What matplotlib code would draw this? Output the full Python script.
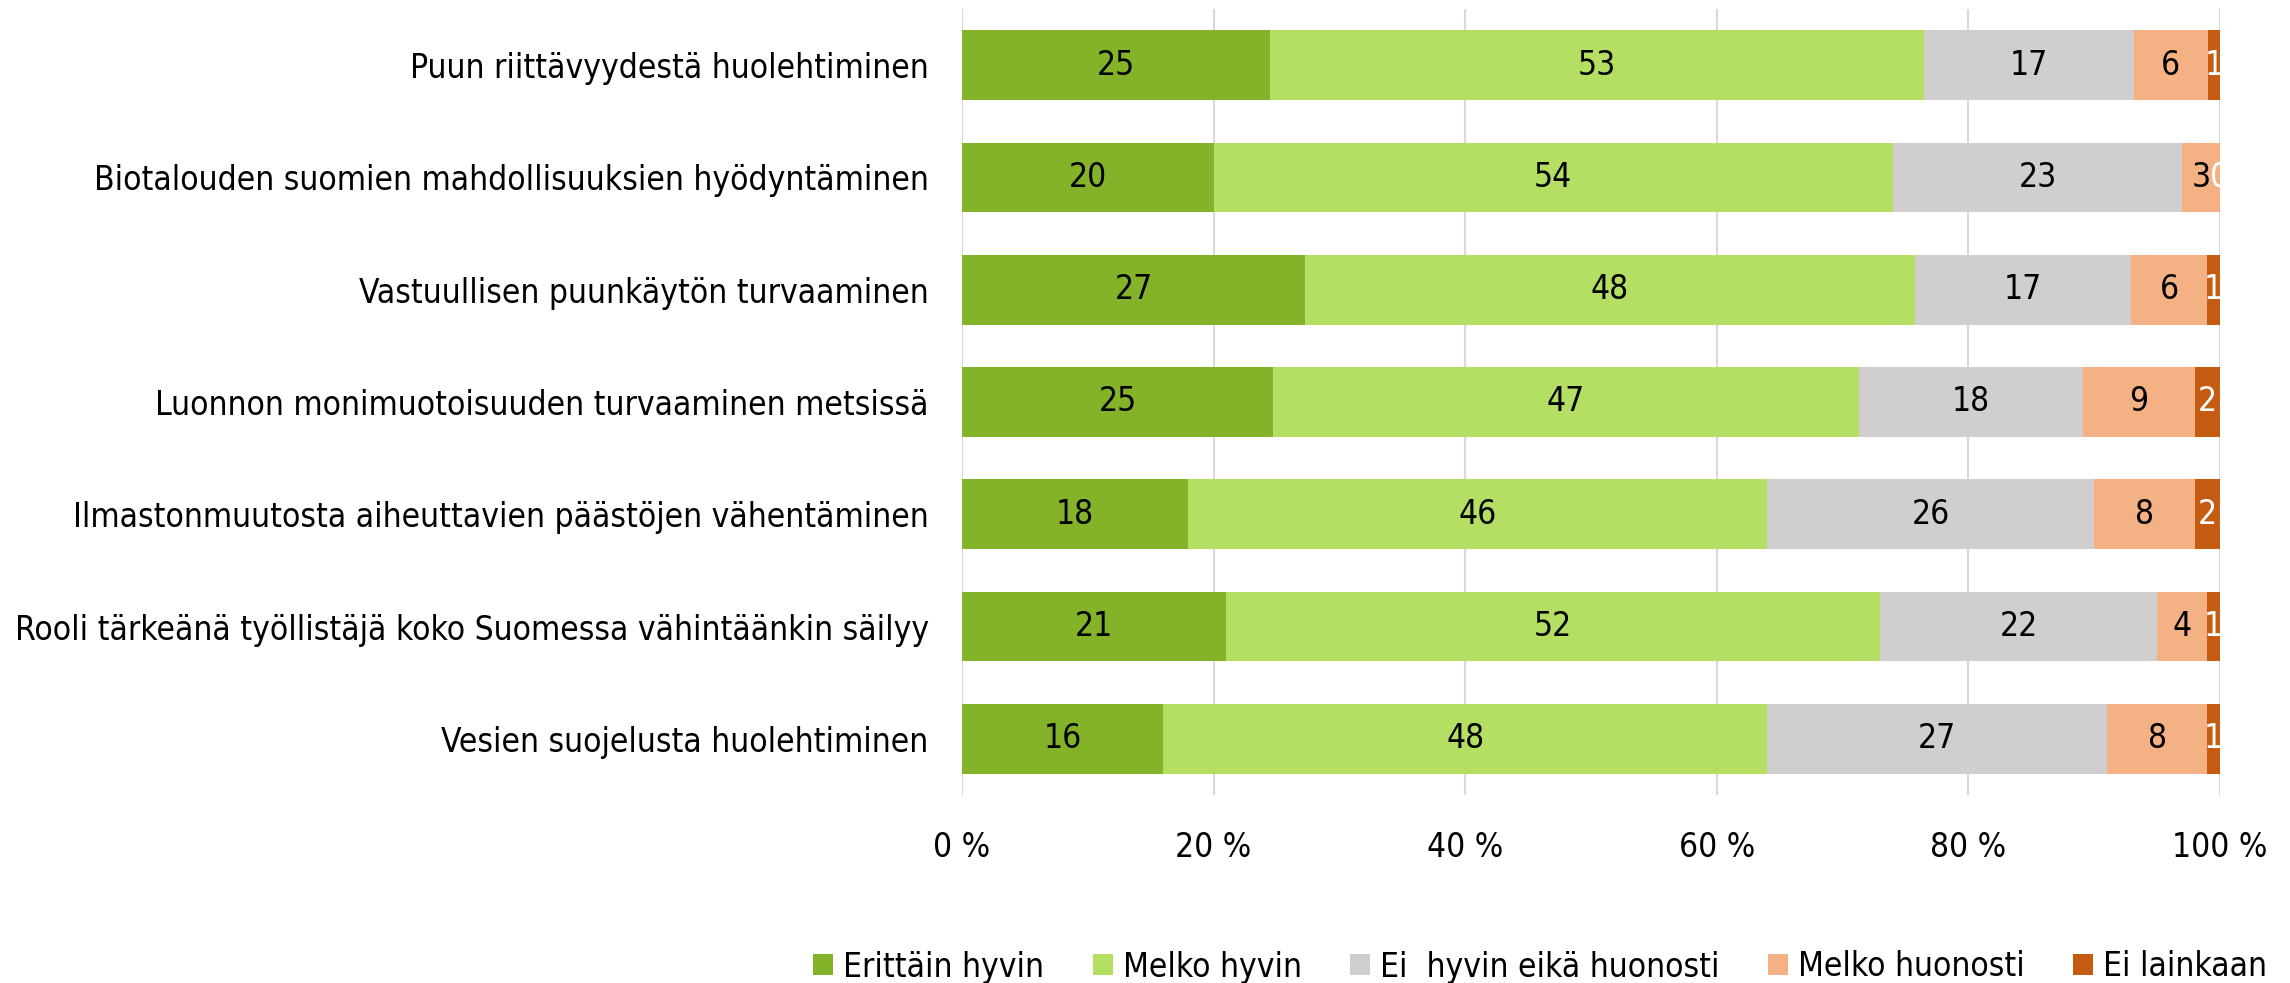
import matplotlib
matplotlib.use("Agg")
import matplotlib.pyplot as plt
import numpy as np
from matplotlib.patches import Patch

plt.rcParams['font.family'] = ['DejaVu Sans']
plt.rcParams['font.stretch'] = 'condensed'

categories = [
    "Puun riittävyydestä huolehtiminen",
    "Biotalouden suomien mahdollisuuksien hyödyntäminen",
    "Vastuullisen puunkäytön turvaaminen",
    "Luonnon monimuotoisuuden turvaaminen metsissä",
    "Ilmastonmuutosta aiheuttavien päästöjen vähentäminen",
    "Rooli tärkeänä työllistäjä koko Suomessa vähintäänkin säilyy",
    "Vesien suojelusta huolehtiminen",
]
series_names = ["Erittäin hyvin", "Melko hyvin", "Ei  hyvin eikä huonosti",
                "Melko huonosti", "Ei lainkaan"]
erittain_hyvin = [25, 20, 27, 25, 18, 21, 16]
melko_hyvin = [53, 54, 48, 47, 46, 52, 48]
ei_hyvin_eika_huonosti = [17, 23, 17, 18, 26, 22, 27]
melko_huonosti = [6, 3, 6, 9, 8, 4, 8]
ei_lainkaan = [1, 0, 1, 2, 2, 1, 1]
tick_labels = ["0 %", "20 %", "40 %", "60 %", "80 %", "100 %"]

colors = ["#84B228", "#B5DF62", "#D0CECE", "#F4B183", "#C55A11"]
text_colors = ["black", "black", "black", "black", "white"]

values = np.array([erittain_hyvin, melko_hyvin, ei_hyvin_eika_huonosti,
                   melko_huonosti, ei_lainkaan], dtype=float)
shares = values / values.sum(axis=0)  # 100 % stacked

fig = plt.figure(figsize=(22.9, 9.83), dpi=100)
ax = fig.add_axes([0.4201, 0.1913, 0.9694 - 0.4201, 0.9908 - 0.1913])

y = np.arange(len(categories))
left = np.zeros(len(categories))
fs = 24
for i in range(len(series_names)):
    ax.barh(y, shares[i], left=left, height=0.62, color=colors[i],
            label=series_names[i], zorder=3)
    for j in range(len(categories)):
        ax.text(left[j] + shares[i][j] / 2, y[j], f"{int(values[i][j])}",
                ha="center", va="center", color=text_colors[i],
                fontsize=fs, zorder=4, clip_on=True)
    left += shares[i]

ax.set_xlim(0, 1)
ax.set_ylim(len(categories) - 0.5, -0.5)
ax.set_yticks(y)
ax.set_yticklabels(categories, fontsize=fs)
ax.set_xticks(np.linspace(0, 1, 6))
ax.set_xticklabels(tick_labels, fontsize=fs)
ax.tick_params(axis="both", length=0)
ax.tick_params(axis="y", pad=24)
ax.tick_params(axis="x", pad=26)
ax.grid(axis="x", color="#D9D9D9", linewidth=1.5, zorder=0)
for s in ax.spines.values():
    s.set_visible(False)

handles = [Patch(facecolor=c, edgecolor="none") for c in colors]
fig.legend(handles, series_names, loc="center", bbox_to_anchor=(1540 / 2290, 1 - 967 / 983),
           ncol=5, frameon=False, fontsize=fs, handlelength=0.6, handleheight=0.6,
           handletextpad=0.3, columnspacing=1.45)

fig.savefig("out.png", dpi=100, facecolor="white")
